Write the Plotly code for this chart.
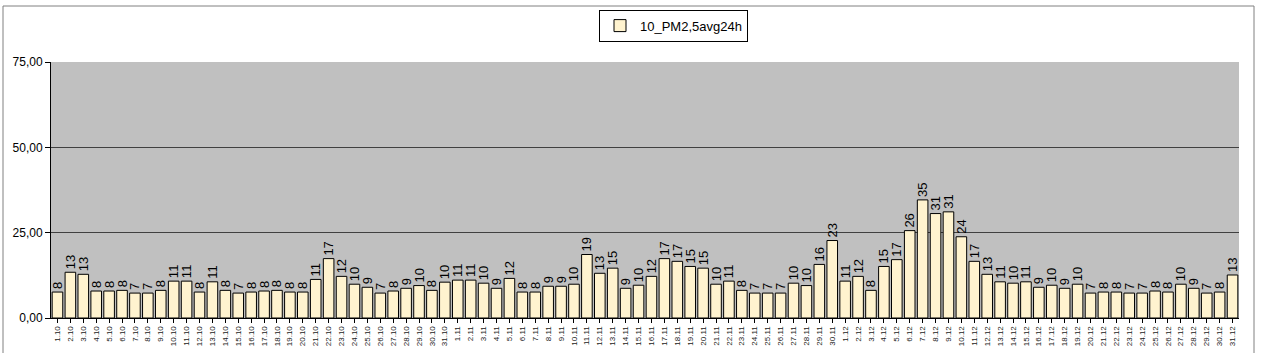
import plotly.graph_objects as go

dates = (
    [f"{d}.10" for d in range(1, 32)]
    + [f"{d}.11" for d in range(1, 31)]
    + [f"{d}.12" for d in range(1, 32)]
)

oct_vals = [7.6, 13.4, 12.8, 7.9, 7.9, 8.1, 7.3, 7.3, 8.1, 10.8, 10.8, 7.6, 10.6, 8.1, 7.3, 7.6,
            7.9, 8.1, 7.6, 7.6, 11.3, 17.4, 12.2, 9.9, 9.0, 7.3, 7.9, 8.7, 9.5, 8.1, 10.5]
nov_vals = [11.1, 11.1, 10.2, 8.7, 11.6, 7.6, 7.6, 9.3, 9.3, 9.9, 18.6, 13.1, 14.6, 8.7, 9.6, 12.2,
            17.4, 16.6, 15.1, 14.6, 9.9, 10.8, 8.1, 7.3, 7.3, 7.3, 10.2, 9.5, 15.7, 22.7]
dec_vals = [10.8, 12.2, 8.1, 15.1, 17.1, 25.6, 34.6, 30.6, 31.1, 23.8, 16.6, 12.8, 10.6, 10.2, 10.6,
            9.0, 9.6, 8.7, 9.9, 7.3, 7.6, 7.6, 7.3, 7.3, 7.9, 7.6, 9.9, 8.7, 7.3, 7.6, 12.6]
values = oct_vals + nov_vals + dec_vals

series_name = "10_PM2,5avg24h"
y_ticks = [0, 25, 50, 75]
y_ticktext = ["0,00", "25,00", "50,00", "75,00"]

fig = go.Figure()
fig.add_trace(go.Bar(
    x=dates, y=values, name=series_name,
    marker=dict(color="#FFF3CF", line=dict(color="#000000", width=1)),
    text=[f"{round(v):d}" for v in values],
    textposition="outside", textangle=-90, constraintext="none",
    textfont=dict(family="Liberation Sans, Arial", size=13, color="#000000"),
    cliponaxis=False,
    width=0.82,
))

fig.update_layout(
    width=1263, height=353,
    margin=dict(l=51, r=24, t=62, b=35, autoexpand=False),
    paper_bgcolor="white", plot_bgcolor="#C0C0C0",
    showlegend=True,
    legend=dict(x=0.524, y=1.142, xanchor="center", yanchor="middle",
                bgcolor="white", bordercolor="#000000", borderwidth=1,
                font=dict(family="Liberation Sans, Arial", size=13, color="#000000"),
                itemwidth=30, tracegroupgap=0),
    font=dict(family="Liberation Sans, Arial"),
)
fig.update_xaxes(
    type="category", tickangle=-90, automargin=False,
    tickfont=dict(size=8, color="#222222"),
    showgrid=False, showline=True, linecolor="#000000", linewidth=1,
    ticks="outside", ticklen=4, tickcolor="#000000",
    range=[-0.5, len(dates) - 0.5],
)
fig.update_yaxes(
    range=[0, 75], tickvals=y_ticks, ticktext=y_ticktext, automargin=False,
    tickfont=dict(size=12, color="#000000"),
    showgrid=True, gridcolor="#404040", gridwidth=1,
    showline=True, linecolor="#000000", linewidth=1,
    ticks="outside", ticklen=5, tickcolor="#000000",
    zeroline=False,
)
# outer chart frame
fig.add_shape(type="rect", xref="paper", yref="paper",
              x0=(3 - 51) / 1188, x1=(1254 - 51) / 1188,
              y0=(318 - 360) / 256, y1=(318 - 6) / 256,
              line=dict(color="#808080", width=1), layer="below")
fig.write_html("out.html")
